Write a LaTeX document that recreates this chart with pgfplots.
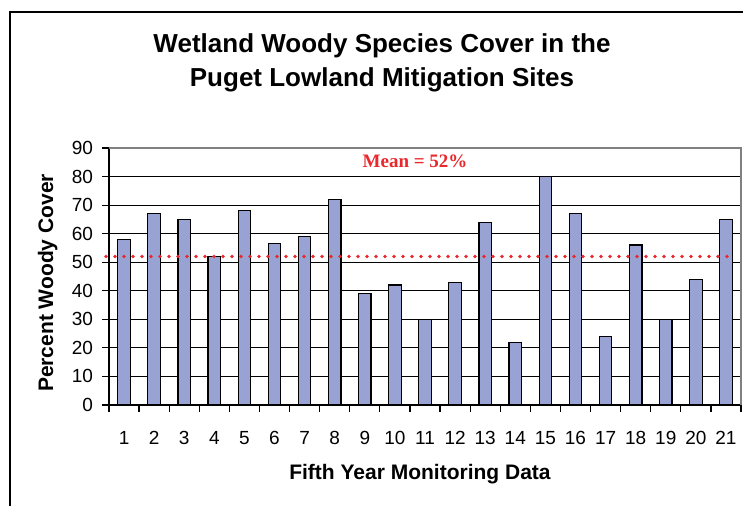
\documentclass[border=0pt]{standalone}
\usepackage{pgfplots}
\pgfplotsset{compat=1.18}
\usepackage{fontspec}
\setmainfont{Liberation Sans}
\newfontfamily\serifbold{Liberation Serif}
\definecolor{barfill}{RGB}{152,163,212}
\definecolor{meanred}{RGB}{232,40,44}
\begin{document}
\begin{tikzpicture}
\begin{axis}[
  scale only axis,
  width=316pt, height=128.5pt,
  xmin=0.5, xmax=21.5, ymin=0, ymax=90,
  axis x line*=bottom, axis y line*=left,
  axis line style={black, line width=0.6pt},
  xtick={1,...,21},
  minor xtick={0.5,1.5,...,21.5},
  ytick={0,10,...,90},
  tick align=outside,
  major tick length=3.5pt, minor tick length=3.5pt,
  major x tick style={draw=none},
  every tick/.style={black, line width=0.6pt},
  minor x tick style={black, line width=0.6pt},
  ymajorgrids,
  major grid style={black, line width=0.6pt},
  /pgf/number format/assume math mode=true,
  tick label style={font=\fontsize{9.5}{11}\selectfont},
  xticklabel style={yshift=-6pt},
  yticklabel style={xshift=-1pt},
  xlabel={Fifth Year Monitoring Data},
  ylabel={Percent Woody Cover},
  label style={font=\fontsize{10.5}{12}\selectfont\bfseries},
  xlabel style={at={(rel axis cs:0.492,-0.2918)}, anchor=base},
  ylabel style={at={(rel axis cs:-0.0886,0.4747)}, anchor=base},
  clip=false,
]
\addplot[ybar, bar width=6.25pt, fill=barfill, draw=black, line width=0.6pt]
coordinates {
(1,58) (2,67) (3,65) (4,52) (5,68) (6,56.5) (7,59) (8,72) (9,39) (10,42) (11,30)
(12,43) (13,64) (14,22) (15,80) (16,67) (17,24) (18,56) (19,30) (20,44) (21,65)
};
\addplot[meanred, line width=1.8pt, line cap=round, dash pattern=on 0pt off 4.5pt]
coordinates {(0.4,52) (21.3,52)};
\draw[gray, line width=0.6pt] (rel axis cs:0,1) -- (rel axis cs:1,1) -- (rel axis cs:1,0);
\node[anchor=base, text=meanred, font=\serifbold\fontsize{9.5}{11}\selectfont\bfseries]
  at (axis cs:10.67,83.1) {Mean = 52\%};
\end{axis}
\draw[black, line width=0.6pt] (-49.5pt,-60pt) -- (-49.5pt,196.5pt) -- (330pt,196.5pt);
\node[anchor=base, font=\fontsize{13}{15}\selectfont\bfseries] at (136.5pt,176.35pt) {Wetland Woody Species Cover in the};
\node[anchor=base, font=\fontsize{13}{15}\selectfont\bfseries] at (136.5pt,159.15pt) {Puget Lowland Mitigation Sites};
\pgfresetboundingbox
\useasboundingbox (-54.5pt,-50.5pt) rectangle (317pt,202.5pt);
\end{tikzpicture}
\end{document}
